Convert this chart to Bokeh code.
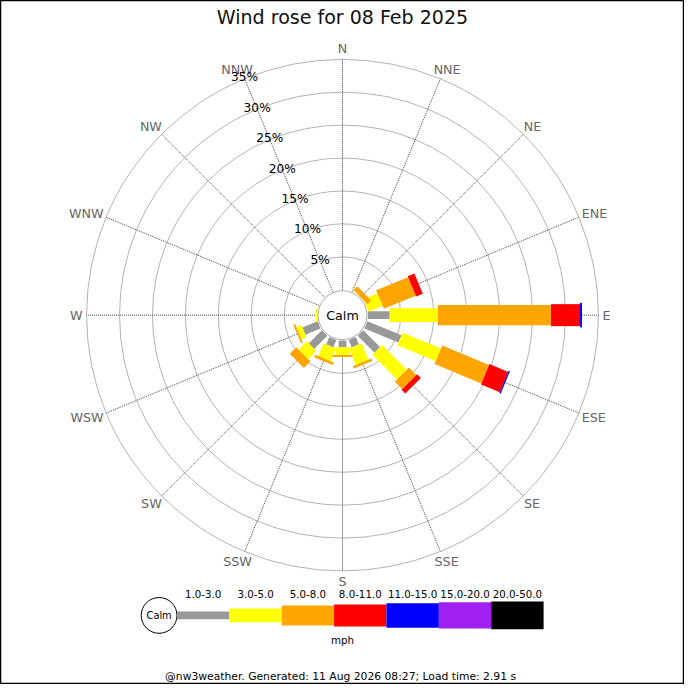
import numpy as np
from bokeh.plotting import figure
from bokeh.models import Range1d
from bokeh.core.properties import value
from bokeh.embed import file_html
from bokeh.resources import INLINE

# ---------------- data ----------------
title_text = "Wind rose for 08 Feb 2025"
directions = ["N", "NNE", "NE", "ENE", "E", "ESE", "SE", "SSE",
              "S", "SSW", "SW", "WSW", "W", "WNW", "NW", "NNW"]
speed_bins = ["1.0-3.0", "3.0-5.0", "5.0-8.0", "8.0-11.0",
              "11.0-15.0", "15.0-20.0", "20.0-50.0"]
speed_unit = "mph"
ring_pcts = [5, 10, 15, 20, 25, 30, 35]
ring_labels = ["5%", "10%", "15%", "20%", "25%", "30%", "35%"]
calm_label = "Calm"
footer_text = "@nw3weather. Generated: 11 Aug 2026 08:27; Load time: 2.91 s"

# percent of time per direction for each speed bin (N, NNE, ... NNW)
pct_1_3   = [0, 0, 0,   0,    3.3,  5.6, 3.6, 1.2, 1.0, 1.2, 2.8,  2.5, 0,   0, 0, 0]
pct_3_5   = [0, 0, 0,   2.3,  7.3,  6.3, 5.3, 2.7, 1.2, 2.1, 1.75, 0.8, 0.2, 0, 0, 0]
pct_5_8   = [0, 0, 0.8, 5.25, 17.2, 7.7, 1.6, 0.4, 0.3, 0.4, 1.4,  0.3, 0,   0, 0, 0]
pct_8_11  = [0, 0, 0,   1.1,  4.4,  3.1, 0.8, 0,   0,   0,   0,    0,   0,   0, 0, 0]
pct_11_15 = [0, 0, 0,   0,    0.3,  0.2, 0,   0,   0,   0,   0,    0,   0,   0, 0, 0]
pct_15_20 = [0] * 16
pct_20_50 = [0] * 16
series = [pct_1_3, pct_3_5, pct_5_8, pct_8_11, pct_11_15, pct_15_20, pct_20_50]

# ---------------- style ----------------
bin_colors = ["#999999", "#ffff00", "#ffa500", "#ff0000", "#0000ff", "#a020f0", "#000000"]
bin_thick = [8, 14, 20.5, 22.5, 25, 27, 28.5]
R0 = 26.0      # calm circle radius (ref px)
K = 6.74       # ref px per percent
FONT = value("DejaVu Sans")

W = H = 684
S = W / 700.0  # screen px per reference px


def fs(v):
    return "%.2fpx" % (v * S)


# data coords: origin at rose centre, 1 unit = 1 reference px
p = figure(width=W, height=H, x_range=Range1d(-350, 350), y_range=Range1d(-378, 322),
           output_backend="svg", toolbar_location=None, min_border=0)
p.axis.visible = False
p.grid.visible = False
p.outline_line_color = "black"
p.outline_line_width = 1.5
p.background_fill_color = "white"
p.border_fill_color = "white"


def rad(pct):
    return R0 + K * pct


theta = np.deg2rad(np.arange(16) * 22.5)   # compass angles
R_out = rad(ring_pcts[-1])

# rings
p.circle(x=[0] * len(ring_pcts), y=[0] * len(ring_pcts), radius=[rad(v) for v in ring_pcts],
         fill_color=None, line_color="#b4b4b4", line_width=1)

# radial lines
p.segment(x0=(R0 * np.sin(theta)).tolist(), y0=(R0 * np.cos(theta)).tolist(),
          x1=(R_out * np.sin(theta)).tolist(), y1=(R_out * np.cos(theta)).tolist(),
          line_color="#444444", line_width=1, line_dash="1 1")

# direction labels
cw = {"N": 9.7, "E": 8.2, "S": 8.3, "W": 12.9}
lx, ly = [], []
for d, t in zip(directions, theta):
    w = sum(cw[c] for c in d)
    lx.append(266 * np.sin(t) + np.sin(t) * w / 2)
    ly.append(266 * np.cos(t) + np.cos(t) * 6.5)
p.text(x=lx, y=ly, text=directions, text_align="center", text_baseline="middle",
       text_font=FONT, text_font_size=fs(13), text_color="#666666")

# bars
cum = np.zeros(16)
for vals, col, th in zip(series, bin_colors, bin_thick):
    v = np.array(vals, dtype=float)
    r_start = rad(cum)
    r_end = rad(cum + v)
    m = v > 0
    rmid = (r_start + r_end) / 2
    p.rect(x=(rmid * np.sin(theta))[m].tolist(), y=(rmid * np.cos(theta))[m].tolist(),
           width=(r_end - r_start)[m].tolist(), height=th,
           angle=(np.pi / 2 - theta)[m].tolist(),
           fill_color=col, line_color=None)
    cum = cum + v

# calm circle
p.circle(x=[0], y=[0], radius=R0 - 1, fill_color="white", line_color="#aaaaaa", line_width=1)
p.text(x=[0], y=[0], text=[calm_label], text_align="center", text_baseline="middle",
       text_font=FONT, text_font_size=fs(13), text_color="black")

# ring labels along NNW ray
tl = np.deg2rad(-22.5)
p.text(x=[rad(v) * np.sin(tl) for v in ring_pcts], y=[rad(v) * np.cos(tl) + 1.5 for v in ring_pcts],
       text=ring_labels, text_align="center", text_baseline="middle",
       text_font=FONT, text_font_size=fs(12.5), text_color="black")

# title
p.text(x=[0], y=[305], text=[title_text], text_align="center", text_baseline="middle",
       text_font=FONT, text_font_size=fs(19.5), text_color="#111111")

# legend
leg_y = -307.3
leg_cx = -187.7
leg_r = 18.3
seg_len = 53.6
p.circle(x=[leg_cx], y=[leg_y], radius=leg_r, fill_color="white", line_color="black", line_width=1)
p.text(x=[leg_cx], y=[leg_y], text=[calm_label], text_align="center", text_baseline="middle",
       text_font=FONT, text_font_size=fs(10), text_color="black")
x0 = leg_cx + leg_r
lxs = [x0 + seg_len * (i + 0.5) for i in range(len(speed_bins))]
p.rect(x=lxs, y=[leg_y] * len(speed_bins), width=seg_len, height=bin_thick,
       fill_color=bin_colors, line_color=None)
p.text(x=lxs, y=[-285.3] * len(speed_bins), text=speed_bins, text_align="center",
       text_baseline="middle", text_font=FONT, text_font_size=fs(10.5), text_color="black")
p.text(x=[0], y=[-332], text=[speed_unit], text_align="center", text_baseline="middle",
       text_font=FONT, text_font_size=fs(10.5), text_color="black")

# footer
p.text(x=[-2], y=[-370], text=[footer_text], text_align="center", text_baseline="middle",
       text_font=FONT, text_font_size=fs(11), text_color="black")

open("out.html", "w").write(file_html(p, INLINE))
